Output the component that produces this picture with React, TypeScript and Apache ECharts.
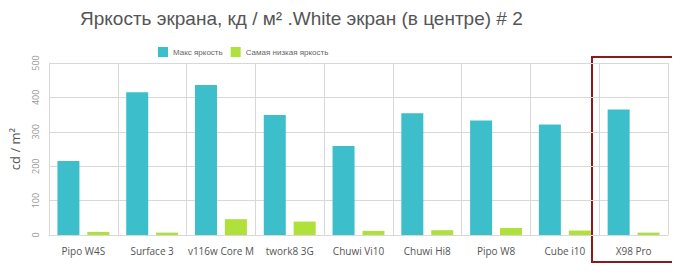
import React, { useEffect, useRef } from "react";
import * as echarts from "echarts";

const categories = ["Pipo W4S", "Surface 3", "v116w Core M", "twork8 3G", "Chuwi Vi10", "Chuwi Hi8", "Pipo W8", "Cube i10", "X98 Pro"];
const maxBrightness = [215, 415, 436, 349, 259, 354, 333, 321, 365];
const minBrightness = [9, 7, 46, 39, 12, 14, 20, 13, 7];
const seriesNames = ["Макс яркость", "Самая низкая яркость"];
const titleText = "Яркость экрана, кд / м² .White экран (в центре) # 2";

export default function App() {
  const ref = useRef<HTMLDivElement>(null);
  useEffect(() => {
    if (!ref.current) return;
    const chart = echarts.init(ref.current, undefined, { renderer: "svg" });
    chart.setOption({
      animation: false,
      title: {
        text: titleText,
        left: 75,
        top: 4,
        textStyle: { fontFamily: "Liberation Sans", fontSize: 19, fontWeight: "normal", color: "#555" },
      },
      legend: {
        left: 153,
        top: 42,
        itemWidth: 10,
        itemHeight: 10,
        itemGap: 8,
        icon: "rect",
        textStyle: { fontFamily: "'Liberation Sans Narrow', 'Liberation Sans'", fontSize: 8, color: "#666" },
        data: seriesNames,
      },
      grid: { left: 46, right: 12, top: 63, bottom: 42 },
      xAxis: {
        type: "category",
        data: categories,
        boundaryGap: true,
        axisLine: { show: true, lineStyle: { color: "#d8d8d8" } },
        axisTick: { show: false },
        splitLine: { show: true, lineStyle: { color: "#d8d8d8" } },
        axisLabel: { fontFamily: "Open Sans", fontSize: 10, color: "#555", margin: 11, interval: 0 },
      },
      yAxis: {
        type: "value",
        min: 0,
        max: 500,
        interval: 100,
        name: "cd / m²",
        nameLocation: "middle",
        nameGap: 28,
        nameRotate: 90,
        nameTextStyle: { fontFamily: "Open Sans", fontSize: 13, color: "#555" },
        axisLine: { show: true, lineStyle: { color: "#d8d8d8" } },
        axisTick: { show: false },
        splitLine: { show: true, lineStyle: { color: "#d8d8d8" } },
        axisLabel: { rotate: 90, fontFamily: "Open Sans", fontSize: 9, color: "#999", margin: 9 },
      },
      series: [
        {
          name: seriesNames[0],
          type: "bar",
          data: maxBrightness,
          barWidth: 22,
          barGap: "36%",
          itemStyle: { color: "#3dbfcb" },
        },
        {
          name: seriesNames[1],
          type: "bar",
          data: minBrightness,
          barWidth: 22,
          itemStyle: { color: "#b0e03a" },
        },
      ],
      graphic: [
        {
          type: "rect",
          shape: { x: 592, y: 57, width: 81, height: 205 },
          style: { fill: "none", stroke: "#8b1a1a", lineWidth: 2 },
        },
      ],
    });
    return () => chart.dispose();
  }, []);
  return <div ref={ref} style={{ width: 680, height: 277, margin: -8 }} />;
}
